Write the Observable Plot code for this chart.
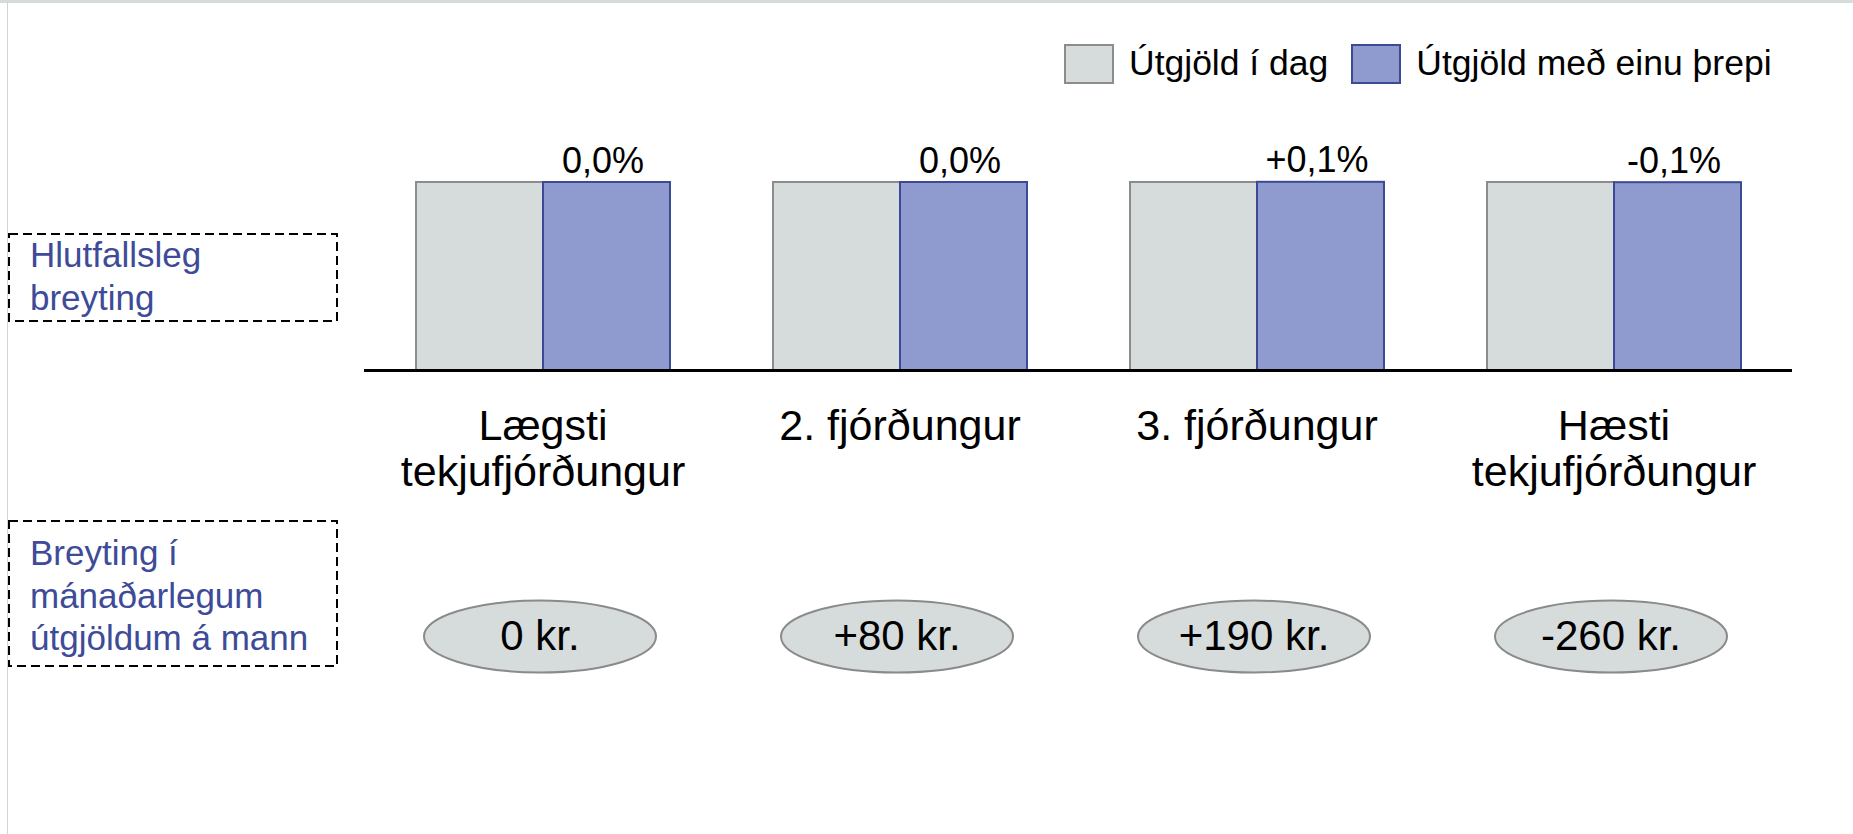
<!DOCTYPE html>
<html>
<head>
<meta charset="utf-8">
<script src="https://cdn.jsdelivr.net/npm/d3@7"></script>
<script src="https://cdn.jsdelivr.net/npm/@observablehq/plot@0.6"></script>
<style>
  html, body { margin: 0; padding: 0; background: #fff; overflow: hidden; }
  body { font-family: "Liberation Sans", Arial, sans-serif; }
  #wrap { position: relative; width: 1853px; height: 834px; }
  #topband { position: absolute; left: 0; top: 0; width: 1853px; height: 3px; background: #d5dcdb; }
  #leftline { position: absolute; left: 7px; top: 3px; width: 1px; height: 831px; background: #cfd4d4; }
  #chart { position: absolute; left: 0; top: 0; }
  .legend { position: absolute; top: 43px; left: 1064px; display: flex; align-items: center; font-size: 35.5px; color: #000; }
  .sw { box-sizing: border-box; width: 50px; height: 40px; border: 2px solid; }
  .lt { margin-left: 15px; margin-right: 23px; white-space: nowrap; }
  .abox { position: absolute; left: 8px; width: 330px; }
  .abox svg { position: absolute; left: 0; top: 0; overflow: visible; }
  .abox .t { position: absolute; left: 22px; color: #3d4b98; font-size: 35px; line-height: 42.5px; white-space: nowrap; }
</style>
</head>
<body>
<div id="wrap">
  <div id="topband"></div>
  <div id="leftline"></div>
  <div id="chart"></div>
  <div class="legend" id="legend"></div>
  <div class="abox" id="box1" style="top:233px;height:89px;"></div>
  <div class="abox" id="box2" style="top:520px;height:147px;"></div>
</div>
<script>
// ---- data ----
const groups = ["Lægsti tekjufjórðungur", "2. fjórðungur", "3. fjórðungur", "Hæsti tekjufjórðungur"];
const groupLabels = ["Lægsti\ntekjufjórðungur", "2. fjórðungur", "3. fjórðungur", "Hæsti\ntekjufjórðungur"];
const seriesNames = ["Útgjöld í dag", "Útgjöld með einu þrepi"];
const todayIndex = [100, 100, 100, 100];
const steppedIndex = [100.0, 100.0, 100.1, 99.9];
const changeLabels = ["0,0%", "0,0%", "+0,1%", "-0,1%"];
const monthlyChangeKr = [0, 80, 190, -260];
const rowLabels = [["Hlutfallsleg", "breyting"], ["Breyting í", "mánaðarlegum", "útgjöldum á mann"]];

const colors = {fill: ["#d6dcdb", "#8f9bcf"], stroke: ["#8c8c8c", "#3c4a96"]};

// ---- tables built from arrays ----
const todayRows = groups.map((g, i) => ({group: g, series: seriesNames[0], value: todayIndex[i]}));
const stepRows = groups.map((g, i) => ({group: g, series: seriesNames[1], value: steppedIndex[i], label: changeLabels[i]}));
const groupRows = groups.map((g, i) => ({
  group: g, label: groupLabels[i],
  kr: (monthlyChangeKr[i] > 0 ? "+" : "") + monthlyChangeKr[i] + " kr."
}));

const ellipseSymbol = {
  draw(ctx) {
    const rx = 116, ry = 36, k = 0.5523;
    ctx.moveTo(rx, 0);
    ctx.bezierCurveTo(rx, ry * k, rx * k, ry, 0, ry);
    ctx.bezierCurveTo(-rx * k, ry, -rx, ry * k, -rx, 0);
    ctx.bezierCurveTo(-rx, -ry * k, -rx * k, -ry, 0, -ry);
    ctx.bezierCurveTo(rx * k, -ry, rx, -ry * k, rx, 0);
    ctx.closePath();
  }
};

const chart = Plot.plot({
  width: 1853,
  height: 834,
  marginLeft: 363,
  marginRight: 60,
  marginTop: 182,
  marginBottom: 464,
  style: {fontFamily: "Liberation Sans, Arial, sans-serif", background: "transparent", overflow: "visible"},
  fx: {domain: groups, padding: 0, axis: null, label: null},
  x: {domain: seriesNames, paddingInner: 0, paddingOuter: 0.4, axis: null},
  y: {domain: [0, 100], axis: null},
  marks: [
    Plot.barY(todayRows, {fx: "group", x: "series", y: "value", fill: colors.fill[0], stroke: colors.stroke[0], strokeWidth: 2}),
    Plot.barY(stepRows, {fx: "group", x: "series", y: "value", fill: colors.fill[1], stroke: colors.stroke[1], strokeWidth: 2}),
    Plot.ruleY([0], {stroke: "#000", strokeWidth: 3}),
    Plot.text(stepRows, {fx: "group", x: "series", y: "value", text: "label", dx: -4, dy: -10, lineAnchor: "bottom", fontSize: 36, fill: "#000"}),
    Plot.text(groupRows, {fx: "group", y: () => 0, text: "label", dy: 37, lineAnchor: "top", lineHeight: 1.07, fontSize: 43, fill: "#000"}),
    Plot.dot(groupRows, {fx: "group", y: () => 0, dx: -3, dy: 266, symbol: ellipseSymbol, fill: "#d6dcdb", stroke: "#8a8a8a", strokeWidth: 2}),
    Plot.text(groupRows, {fx: "group", y: () => 0, dx: -3, dy: 266, text: "kr", fontSize: 42, fill: "#000"})
  ]
});
document.getElementById("chart").appendChild(chart);

// ---- legend ----
const legend = document.getElementById("legend");
seriesNames.forEach((s, i) => {
  const sw = document.createElement("div");
  sw.className = "sw";
  sw.style.background = colors.fill[i];
  sw.style.borderColor = colors.stroke[i];
  const t = document.createElement("div");
  t.className = "lt";
  t.textContent = s;
  legend.appendChild(sw);
  legend.appendChild(t);
});

// ---- annotation boxes ----
function makeBox(id, lines, textTop) {
  const el = document.getElementById(id);
  const w = el.offsetWidth, h = el.offsetHeight;
  const ns = "http://www.w3.org/2000/svg";
  const svg = document.createElementNS(ns, "svg");
  svg.setAttribute("width", w); svg.setAttribute("height", h);
  const r = document.createElementNS(ns, "rect");
  r.setAttribute("x", 1); r.setAttribute("y", 1);
  r.setAttribute("width", w - 2); r.setAttribute("height", h - 2);
  r.setAttribute("fill", "none"); r.setAttribute("stroke", "#000");
  r.setAttribute("stroke-width", 2); r.setAttribute("stroke-dasharray", "9 5");
  svg.appendChild(r);
  el.appendChild(svg);
  const t = document.createElement("div");
  t.className = "t";
  t.style.top = textTop + "px";
  t.innerHTML = lines.join("<br>");
  el.appendChild(t);
}
makeBox("box1", rowLabels[0], 1);
makeBox("box2", rowLabels[1], 12);
</script>
</body>
</html>
